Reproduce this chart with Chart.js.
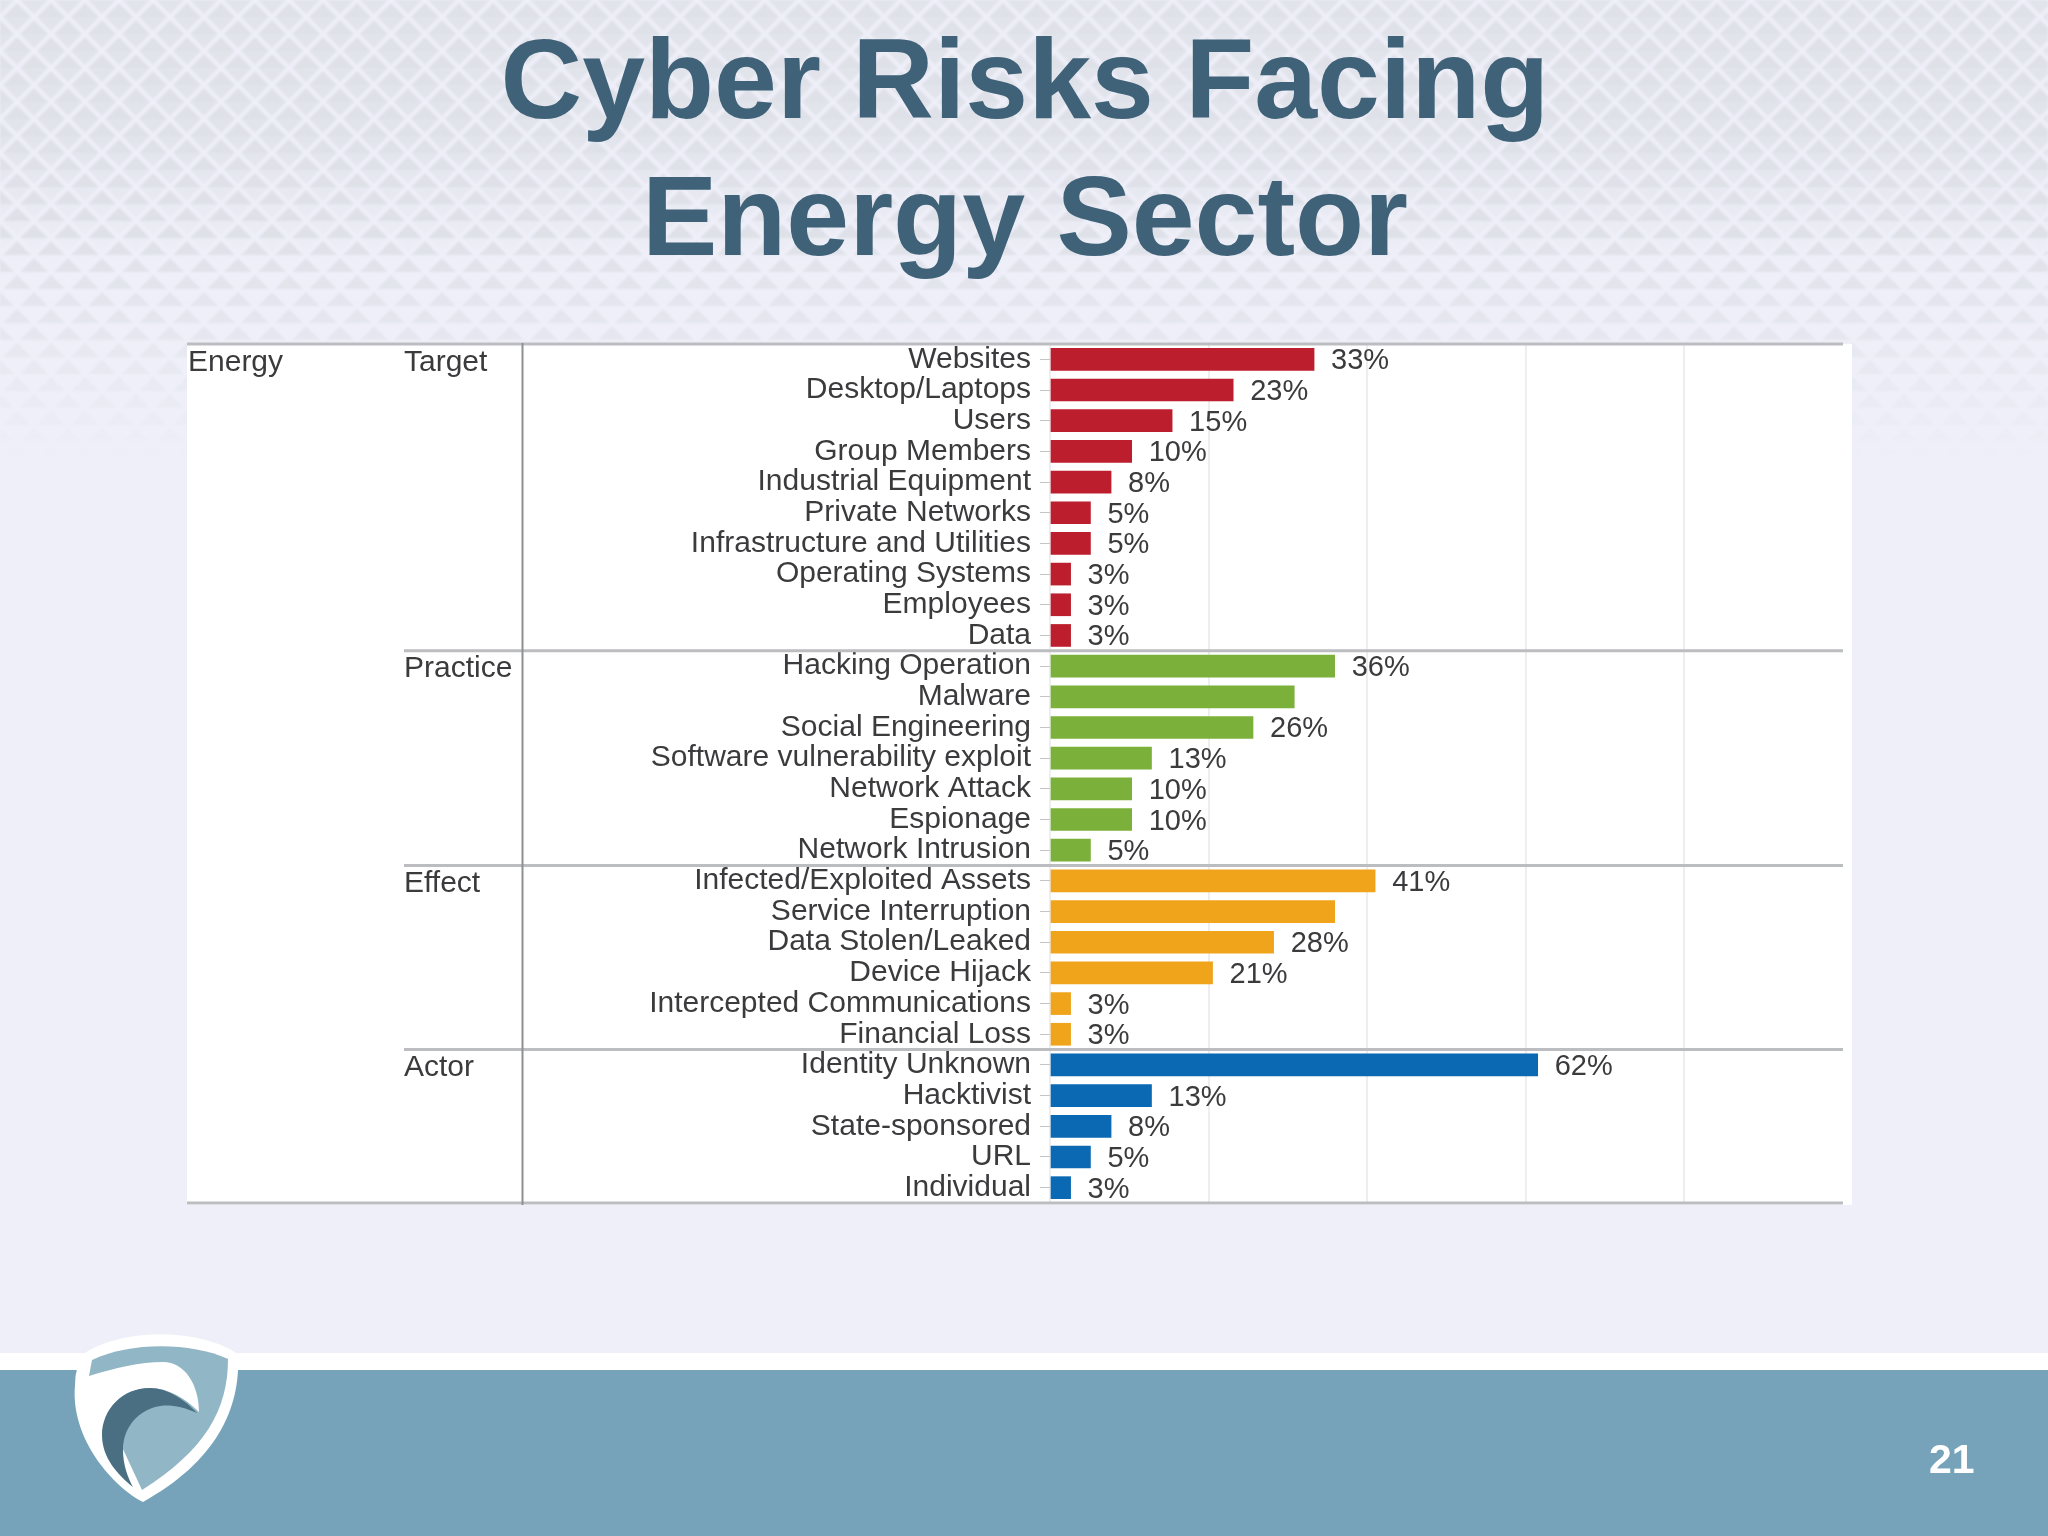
<!DOCTYPE html>
<html>
<head>
<meta charset="utf-8">
<title>Cyber Risks Facing Energy Sector</title>
<script src="https://cdn.jsdelivr.net/npm/chart.js@4"></script>
<style>
  html, body { margin: 0; padding: 0; background: #eeeff8; }
  #slide { position: relative; width: 2048px; height: 1536px; overflow: hidden; background: #eeeff8; font-family: "Liberation Sans", Arial, sans-serif; }
  #slide > * { position: absolute; left: 0; top: 0; }
  h1 { margin: 0; width: 2050px; text-align: center; color: #3f6278; font-size: 113px; line-height: 137px; font-weight: bold; top: 11px !important; }
  #stripe { top: 1353px !important; width: 2048px; height: 17px; background: #fff; }
  #footer { top: 1370px !important; width: 2048px; height: 166px; background: #76a3b9; }
  #page { left: 1929px !important; top: 1436px !important; color: #fff; font-size: 41px; font-weight: bold; }
</style>
</head>
<body>
<div id="slide">
  <svg width="2048" height="500">
    <defs>
      <pattern id="upper" width="34" height="34" patternUnits="userSpaceOnUse">
        <path d="M17 3 L31 17 L3 17 Z M0 -14 L14 0 L-14 0 Z M34 -14 L48 0 L20 0 Z M0 20 L14 34 L-14 34 Z M34 20 L48 34 L20 34 Z" fill="#dfe1e9"/>
      </pattern>
      <pattern id="lower" width="34" height="34" patternUnits="userSpaceOnUse">
        <path d="M3 17 L31 17 L17 31 Z M-14 0 L14 0 L0 14 Z M20 0 L48 0 L34 14 Z" fill="#e2e4ec"/>
      </pattern>
      <linearGradient id="fadeTop" x1="0" y1="0" x2="0" y2="1">
        <stop offset="0" stop-color="#fff"/><stop offset="0.5" stop-color="#fff"/><stop offset="1" stop-color="#000"/>
      </linearGradient>
      <linearGradient id="fadeAll" x1="0" y1="0" x2="0" y2="1">
        <stop offset="0" stop-color="#fff"/><stop offset="0.5" stop-color="#fff"/><stop offset="1" stop-color="#000"/>
      </linearGradient>
      <mask id="lowerMask"><rect width="2048" height="270" fill="url(#fadeTop)"/></mask>
      <mask id="upperMask"><rect width="2048" height="465" fill="url(#fadeAll)"/></mask>
      <filter id="soft" x="0" y="0" width="100%" height="100%"><feGaussianBlur stdDeviation="1.1"/></filter>
    </defs>
    <g filter="url(#soft)">
      <rect width="2048" height="465" fill="url(#upper)" mask="url(#upperMask)"/>
      <rect width="2048" height="270" fill="url(#lower)" mask="url(#lowerMask)"/>
    </g>
  </svg>
  <h1>Cyber Risks Facing<br>Energy Sector</h1>
  <div id="stripe"></div>
  <div id="footer"></div>
  <canvas id="riskChart" width="2048" height="1536"></canvas>
  <svg width="2048" height="1536">
    <path d="M85 1353 C120 1330 195 1326 238 1354 C241 1410 215 1462 143 1502 C115 1488 70 1440 75 1385 Q75 1365 85 1353 Z" fill="#fff"/>
    <path d="M92 1360 C130 1342 190 1342 228 1359 C228 1410 205 1450 142 1490 L89 1376 Z" fill="#91b6c5"/>
    <path d="M89 1376 C115 1368 140 1362 163 1362 C185 1362 199 1385 199 1412 C185 1398 168 1388 150 1388 C122 1388 102 1410 102 1435 C102 1458 118 1475 142 1492 L80 1420 Z" fill="#fff"/>
    <path d="M197 1413 C185 1400 168 1388 150 1388 C122 1388 102 1410 102 1435 C102 1458 118 1475 133 1487 C128 1478 123 1465 123 1450 C123 1430 135 1413 155 1407 C165 1404 180 1405 197 1413 Z" fill="#4a6f82"/>
  </svg>
  <div id="page">21</div>
</div>

<script>
const categories = [
  "Websites", "Desktop/Laptops", "Users", "Group Members", "Industrial Equipment",
  "Private Networks", "Infrastructure and Utilities", "Operating Systems", "Employees", "Data",
  "Hacking Operation", "Malware", "Social Engineering", "Software vulnerability exploit",
  "Network Attack", "Espionage", "Network Intrusion",
  "Infected/Exploited Assets", "Service Interruption", "Data Stolen/Leaked", "Device Hijack",
  "Intercepted Communications", "Financial Loss",
  "Identity Unknown", "Hacktivist", "State-sponsored", "URL", "Individual"
];
const values = [
  33.3, 23.1, 15.4, 10.3, 7.7, 5.1, 5.1, 2.6, 2.6, 2.6,
  35.9, 30.8, 25.6, 12.8, 10.3, 10.3, 5.1,
  41, 35.9, 28.2, 20.5, 2.6, 2.6,
  61.5, 12.8, 7.7, 5.1, 2.6
];
// these two bars have no percentage printed next to them
const unlabelled = ["Malware", "Service Interruption"];
const groupNames = ["Target", "Practice", "Effect", "Actor"];
const groupFirst = ["Websites", "Hacking Operation", "Infected/Exploited Assets", "Identity Unknown"];
const sectorName = "Energy";
const xTicks = [0, 20, 40, 60, 80];

const groupColors = ["#bd1e2d", "#7bb03a", "#f0a41c", "#0b68b2"];
const textColor = "#3b3b3d";
const fontFamily = '"Liberation Sans", Arial, sans-serif';

const firstIdx = groupFirst.map(c => categories.indexOf(c));
const barColors = categories.map((c, i) => {
  let g = 0;
  firstIdx.forEach((f, k) => { if (i >= f) g = k; });
  return groupColors[g];
});

// panel, group column and separators around the bars
const panelPlugin = {
  id: "panel",
  beforeDraw(chart) {
    const { ctx, chartArea: a } = chart;
    ctx.save();
    ctx.fillStyle = "#fff";
    ctx.fillRect(187, a.top, a.right + 9 - 187, a.bottom - a.top + 2);
    ctx.restore();
  },
  afterDatasetsDraw(chart) {
    const { ctx, chartArea: a, scales: { y } } = chart;
    const step = (a.bottom - a.top) / categories.length;
    ctx.save();
    ctx.strokeStyle = "#bcbdc0";
    ctx.lineWidth = 3;
    [a.top, a.bottom].forEach(py => {
      ctx.beginPath(); ctx.moveTo(187, py); ctx.lineTo(a.right, py); ctx.stroke();
    });
    firstIdx.slice(1).forEach(i => {
      const py = y.getPixelForValue(i) - step / 2;
      ctx.beginPath(); ctx.moveTo(404, py); ctx.lineTo(a.right, py); ctx.stroke();
    });
    ctx.strokeStyle = "#8e8f93";
    ctx.lineWidth = 2;
    ctx.beginPath(); ctx.moveTo(522.5, a.top - 1); ctx.lineTo(522.5, a.bottom + 2); ctx.stroke();

    ctx.font = "30px " + fontFamily;
    ctx.fillStyle = textColor;
    ctx.textBaseline = "middle";
    ctx.textAlign = "left";
    ctx.fillText(sectorName, 188, y.getPixelForValue(0) + 3);
    groupNames.forEach((g, k) => {
      ctx.fillText(g, 404, y.getPixelForValue(firstIdx[k]) + 3);
    });

    // value labels at the bar ends
    ctx.font = "29px " + fontFamily;
    const meta = chart.getDatasetMeta(0);
    meta.data.forEach((bar, i) => {
      if (unlabelled.includes(categories[i])) return;
      ctx.fillText(Math.round(values[i]) + "%", bar.x + 17, bar.y + 2);
    });
    ctx.restore();
  }
};

new Chart(document.getElementById("riskChart"), {
  type: "bar",
  data: {
    labels: categories,
    datasets: [{
      data: values,
      backgroundColor: barColors,
      barThickness: 22
    }]
  },
  plugins: [panelPlugin],
  options: {
    indexAxis: "y",
    responsive: false,
    animation: false,
    devicePixelRatio: 1,
    layout: { padding: { left: 187, right: 205, top: 344, bottom: 333 } },
    plugins: { legend: { display: false }, tooltip: { enabled: false }, title: { display: false } },
    scales: {
      x: {
        min: 0,
        max: 100,
        afterBuildTicks: scale => { scale.ticks = xTicks.map(v => ({ value: v })); },
        grid: { color: "#eeeeee", lineWidth: 2, drawTicks: false },
        border: { display: false },
        ticks: { display: false }
      },
      y: {
        afterFit: scale => { scale.width = 863; },
        grid: { offset: false, drawOnChartArea: false, tickLength: 10, tickColor: "#c4c5c8" },
        border: { display: false },
        ticks: { autoSkip: false, color: textColor, font: { family: fontFamily, size: 30 }, padding: 9 }
      }
    }
  }
});
</script>
</body>
</html>
